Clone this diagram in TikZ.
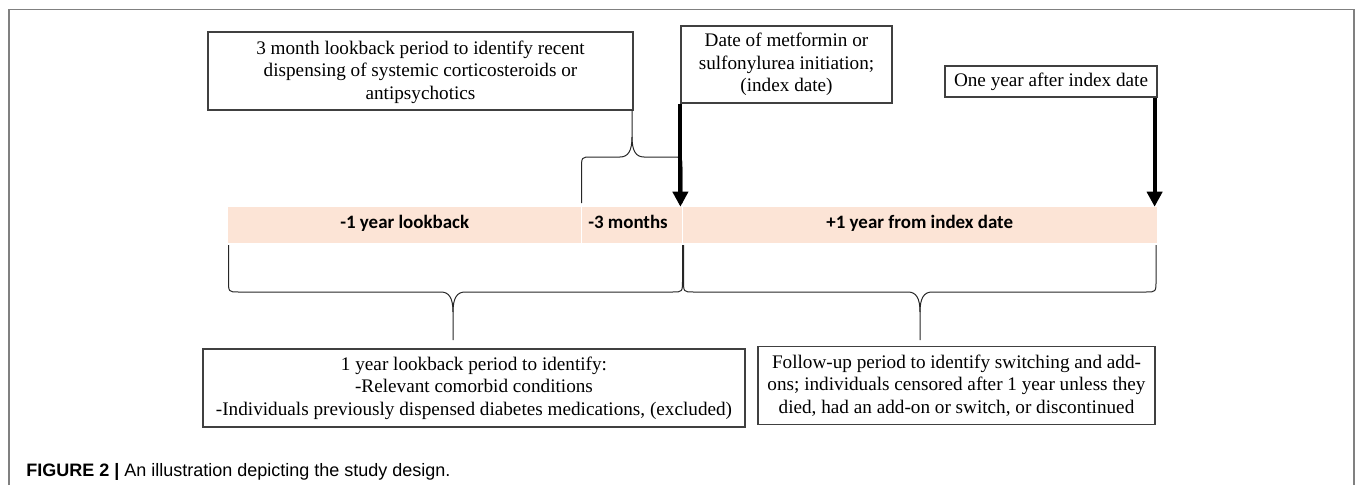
\documentclass[tikz,border=0pt]{standalone}
\usepackage{fontspec}
\setmainfont{Liberation Serif}
\newfontfamily\barfont{Carlito}
\newfontfamily\capfont{Liberation Sans}
\usetikzlibrary{arrows.meta,calc}
\definecolor{peach}{RGB}{252,228,214}
\definecolor{boxgray}{RGB}{64,64,64}
\definecolor{framegray}{RGB}{128,128,128}
% brace: x1, x2, y of ends, y of horizontal, x of tip, y of tip, direction sign
\newcommand{\mybrace}[7]{%
  \draw[bracel] (#1,#3) -- (#1,{#4-(#7)*12}) .. controls (#1,#4) and (#1,#4) .. ({#1+10},#4)
     -- ({#5-12},#4) .. controls ({#5-4},#4) and (#5,{#4+(#7)*6}) .. (#5,{#4+(#7)*20}) -- (#5,#6);
  \draw[bracel] (#5,{#4+(#7)*20}) .. controls (#5,{#4+(#7)*6}) and ({#5+4},#4) .. ({#5+12},#4)
     -- ({#2-10},#4) .. controls (#2,#4) and (#2,#4) .. (#2,{#4-(#7)*12}) -- (#2,#3);
}
\begin{document}
\begin{tikzpicture}[x=0.75pt,y=-0.75pt,
  lbl/.style={draw=boxgray,line width=0.9pt,fill=white,align=center,inner sep=0pt,
    font=\fontsize{14.4pt}{16.9pt}\selectfont},
  seg/.style={fill=peach,inner sep=0pt,minimum height=27pt,text height=9pt,text depth=4.5pt,
    font=\barfont\bfseries\fontsize{14.2pt}{16pt}\selectfont},
  sepline/.style={white,line width=1pt},
  bigarrow/.style={line width=3pt,-{Triangle[length=11.25pt,width=11.25pt]}},
  bracel/.style={line width=0.75pt,black!85},
  frameline/.style={framegray,line width=1.1pt}]
\useasboundingbox (0,0) rectangle (1355,485);
\draw[frameline] (9,485) -- (9,9.5) -- (1354,9.5) -- (1354,485);

% timeline bar
\node[seg,minimum width=265.1pt] (seg1) at (404.75,225) {-1 year lookback};
\node[seg,minimum width=75.75pt] (seg2) at (632,225) {\hspace*{-6pt}-3 months};
\node[seg,minimum width=355.9pt] (seg3) at (919.75,225) {+1 year from index date};
\draw[sepline] (seg2.north west) -- (seg2.south west);
\draw[sepline] (seg3.north west) -- (seg3.south west);

% boxes
\node[lbl,minimum width=318.75pt,minimum height=58.5pt,text depth=1.5pt] (b1) at (420.5,71)
  {3 month lookback period to identify recent\\dispensing of systemic corticosteroids or\\antipsychotics};
\node[lbl,minimum width=158.25pt,minimum height=57.75pt] (b2) at (786.5,64.5)
  {Date of metformin or\\sulfonylurea initiation;\\(index date)};
\node[lbl,minimum width=159pt,minimum height=23.25pt] (b3) at (1051,81.5)
  {One year after index date};
\node[lbl,minimum width=406.5pt,minimum height=58.5pt] (b4) at (474,388)
  {1 year lookback period to identify:\\-Relevant comorbid conditions\\-Individuals previously dispensed diabetes medications, (excluded)};
\node[lbl,minimum width=297.75pt,minimum height=58.5pt] (b5) at (956.5,385.5)
  {Follow-up period to identify switching and add-\\ons; individuals censored after 1 year unless they\\died, had an add-on or switch, or discontinued};

% braces
\mybrace{581.5}{682}{203}{157}{632}{110}{-1}
\mybrace{228.5}{682.5}{245}{292}{453}{340}{1}
\mybrace{683.5}{1156}{245}{292}{920}{340}{1}

% arrows
\draw[bigarrow] (b2.south west) -- (b2.south west |- seg3.north);
\draw[bigarrow] ([xshift=-2.25pt]b3.south east) -- ([xshift=-2.25pt]b3.south east |- seg3.north);

% caption
\node[anchor=base west,inner sep=0pt,font=\capfont\fontsize{13.5pt}{16pt}\selectfont] (cap) at (26,476)
  {\textbf{FIGURE 2 |} An illustration depicting the study design.};
\end{tikzpicture}
\end{document}
